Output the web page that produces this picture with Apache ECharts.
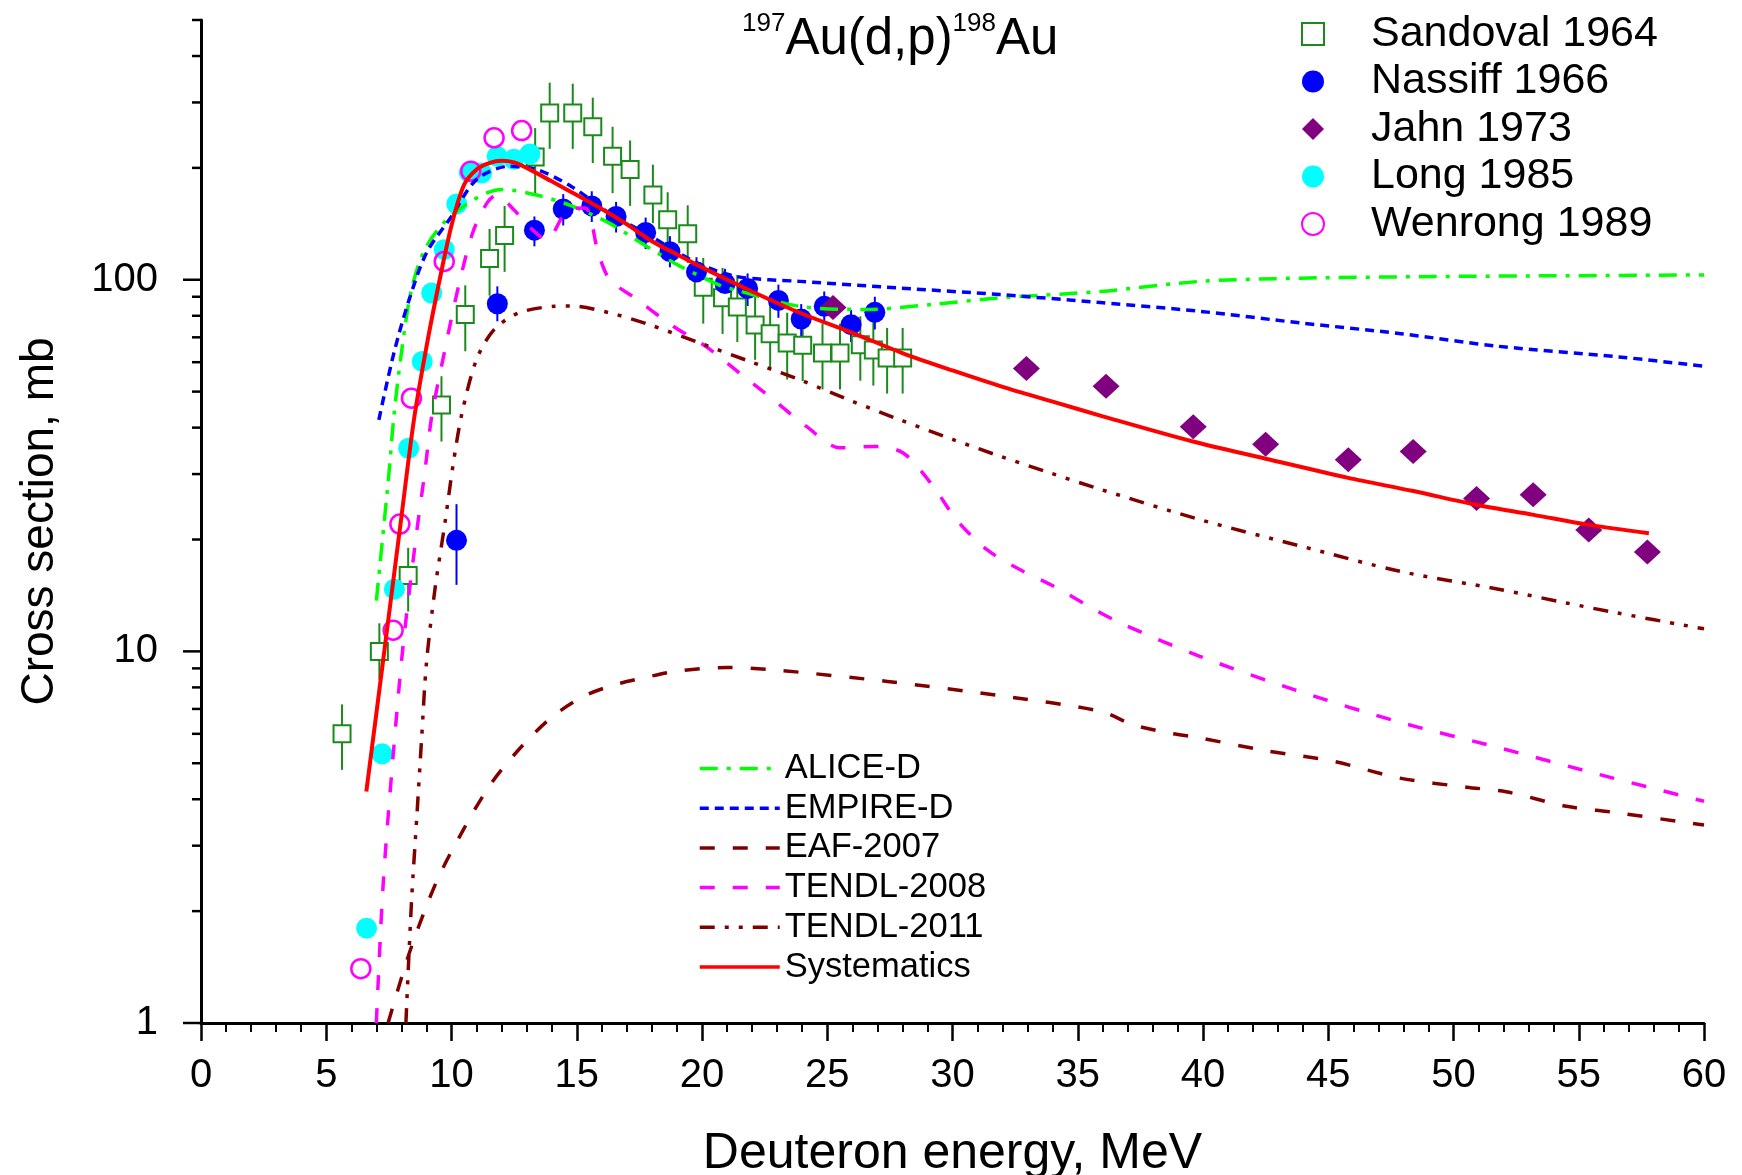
<!DOCTYPE html>
<html><head><meta charset="utf-8">
<script src="https://cdn.jsdelivr.net/npm/echarts@6/dist/echarts.min.js"></script>
<style>html,body{margin:0;padding:0;background:#fff}#c{width:1742px;height:1175px}</style>
</head><body><div id="c"></div>
<script>
// ---------- data ----------
const sandovalE = [5.63, 7.12, 8.27, 9.6, 10.55, 11.52, 12.12, 13.34, 13.92, 14.84, 15.64, 16.43, 17.13, 18.04, 18.63, 19.43, 20.05, 20.82, 21.41, 22.12, 22.72, 23.40, 24.02, 24.81, 25.51, 26.32, 26.84, 27.39, 28.01];
const sandovalV = [6.0, 10.0, 16.0, 46, 80.6, 114, 131.5, 214, 281, 281, 258, 215, 198, 169, 145, 133, 95.4, 89.4, 84.5, 75.6, 71.6, 67.6, 66.6, 63.5, 63.5, 66.8, 64.7, 61.6, 61.6];
const sandovalLo = [4.8, 8.4, 12.8, 36.7, 64.2, 90.6, 105, 171, 225, 225, 206, 171, 158, 142, 121.5, 111, 76.2, 71.5, 68, 60.9, 57.3, 53.9, 53.4, 50.7, 50.7, 53.5, 51.9, 49.4, 49.4];
const sandovalHi = [7.2, 11.9, 19.0, 55, 96.6, 137, 158, 256, 339, 337, 309, 258, 237, 204, 172, 158.6, 114.5, 107.6, 103, 91.2, 86.6, 81.5, 80, 76.2, 76.2, 79.7, 78.2, 74.2, 74.2];

const nassiffE = [10.2, 11.83, 13.31, 14.46, 15.6, 16.57, 17.75, 18.72, 19.78, 20.92, 21.82, 23.05, 23.96, 24.88, 25.95, 26.9];
const nassiffV = [19.9, 86.2, 136, 155, 158, 148, 134, 119, 105, 97.7, 94.7, 88, 78.4, 84.8, 75.7, 81.7];
const nassiffLo = [15.1, 77.3, 123, 140, 143, 134, 121, 108, 95, 88, 85, 79, 70.5, 76, 68, 73.5];
const nassiffHi = [24.9, 96, 148, 170, 173, 162, 147, 131, 115, 107, 104, 97, 86, 93, 83, 90];

const jahnE = [25.23, 32.95, 36.13, 39.61, 42.5, 45.8, 48.39, 50.92, 53.18, 55.4, 57.74];
const jahnV = [84.2, 57.7, 51.7, 40.2, 36.1, 32.8, 34.5, 25.8, 26.4, 21.2, 18.5];

const longE = [6.61, 7.23, 7.72, 8.29, 8.83, 9.21, 9.71, 10.21, 10.71, 11.2, 11.82, 12.49, 13.13];
const longV = [1.8, 5.3, 14.7, 35.2, 60.3, 92.1, 120.5, 160, 194.6, 193.8, 214.8, 211, 218];

const wenrongE = [6.38, 7.67, 7.94, 8.4, 9.71, 10.77, 11.7, 12.8];
const wenrongV = [1.4, 11.4, 22, 48, 112, 196, 241, 252];

const aliceE = [7.0, 7.5, 7.7, 8.0, 8.4, 9.0, 10.1, 12.0, 13.4, 14.8, 16.3, 17.7, 19.1, 20.8, 21.3, 23.9, 26.6, 29.2, 31.9, 35.9, 39.9, 43.9, 49.2, 54, 60];
const aliceV = [13.7, 30, 43, 63.5, 94, 123, 151, 175, 169, 158, 142, 124, 109, 96, 94, 84.8, 83.2, 85.8, 89.4, 93, 99, 101, 102, 102.5, 103];

const empireE = [7.1, 7.7, 8.3, 9.0, 10.0, 11.0, 12.3, 13.4, 14.8, 16.3, 17.7, 19.8, 21.4, 23.9, 27.9, 31.9, 35.9, 39.9, 43.9, 47.9, 51.8, 56.6, 60];
const empireV = [42, 63.5, 88, 118, 148, 186, 202, 198, 178, 151, 134, 111, 102, 99, 95, 91.2, 86.8, 82.2, 76.5, 71.6, 66.2, 62, 58.5];

const eafE = [7.47, 8.34, 9.4, 10.47, 11.53, 12.6, 13.93, 15.26, 16.46, 17.65, 19.0, 21.0, 23.0, 27.4, 31.9, 35.9, 37.2, 38.55, 39.87, 42.54, 45.2, 47.86, 50.52, 52.1, 54.51, 56.37, 60];
const eafV = [1.0, 1.56, 2.4, 3.31, 4.36, 5.36, 6.59, 7.56, 8.11, 8.48, 8.85, 9.05, 8.9, 8.3, 7.6, 6.9, 6.35, 6.05, 5.85, 5.4, 5.06, 4.56, 4.31, 4.19, 3.83, 3.69, 3.41];

const tendl08E = [7.0, 7.27, 7.67, 8.07, 8.6, 8.94, 9.21, 9.71, 10.28, 10.85, 11.42, 11.8, 12.5, 13.1, 13.8, 14.64, 15.33, 15.86, 16.32, 17.25, 18.85, 20.18, 21.51, 22.84, 24.17, 25.5, 26.84, 28.03, 29.23, 30.16, 31.36, 32.69, 34.02, 36.4, 39.87, 43.86, 47.85, 51.84, 55.84, 60];
const tendl08V = [1.0, 2.35, 5.24, 10.4, 20.7, 30.6, 42.9, 63.5, 96, 134, 161, 169, 154, 139, 128, 154, 156, 118, 100, 90, 75, 66, 56, 47.6, 40.3, 35.3, 35.6, 34.2, 27.8, 22.6, 18.8, 16.6, 15.0, 12.2, 9.7, 7.8, 6.45, 5.5, 4.66, 3.95];

const tendl11E = [8.18, 8.4, 8.63, 8.81, 9.0, 9.34, 9.74, 10.07, 10.42, 11.0, 11.7, 12.7, 14.1, 14.8, 16.3, 17.9, 19.9, 21.9, 23.9, 26.0, 27.9, 30.0, 31.9, 33.9, 35.9, 39.9, 43.9, 47.9, 51.8, 54.5, 56.5, 60];
const tendl11V = [1.0, 2.1, 3.72, 5.87, 9.3, 14.7, 22.2, 32, 43.8, 61, 73.4, 81.5, 84.8, 85, 81.5, 75.7, 67.6, 60.3, 53.8, 47.1, 42, 37.2, 33.5, 30.2, 27.3, 22.6, 19.2, 16.4, 14.7, 13.5, 12.7, 11.5];

const sysE = [6.6, 7.0, 7.5, 8.0, 8.5, 9.0, 9.5, 10.0, 10.5, 11.0, 11.5, 12.0, 12.5, 13.0, 14.0, 15.0, 16.0, 17.0, 18.0, 19.0, 20.0, 22.0, 24.0, 26.0, 28.0, 30.0, 32.0, 34.0, 36.0, 39.6, 42.5, 45.8, 48.4, 50.9, 53.2, 55.4, 57.8];
const sysV = [4.2, 6.8, 12.5, 23, 42, 66, 98, 140, 180, 198, 206, 209, 207, 200, 184, 169, 155, 141, 127, 117, 108, 93, 81, 72, 63.5, 57, 51.5, 47, 42.9, 36.7, 33, 29.3, 27, 24.8, 23.3, 21.9, 20.8];

const yLabelValues = [1, 10, 100];
const yMinorValues = [2, 3, 4, 5, 6, 7, 8, 9, 20, 30, 40, 50, 60, 70, 80, 90, 200, 300, 400, 500];

const pointNames = ['Sandoval 1964', 'Nassiff 1966', 'Jahn 1973', 'Long 1985', 'Wenrong 1989'];
const lineNames = ['ALICE-D', 'EMPIRE-D', 'EAF-2007', 'TENDL-2008', 'TENDL-2011', 'Systematics'];

// ---------- chart ----------
const FF = '"Liberation Sans", Arial, Helvetica, sans-serif';
const zip = (a, b) => a.map((x, i) => [x, b[i]]);

function errSeries(E, lo, hi, color) {
  return {
    type: 'custom', silent: true, z: 2,
    data: E.map((e, i) => [e, lo[i], hi[i]]),
    encode: { x: 0, y: [1, 2] },
    renderItem: (p, api) => {
      const a = api.coord([api.value(0), api.value(1)]);
      const b = api.coord([api.value(0), api.value(2)]);
      return { type: 'line', shape: { x1: a[0], y1: a[1], x2: b[0], y2: b[1] },
               style: { stroke: color, lineWidth: 2 } };
    }
  };
}
function lineSeries(name, E, V, color, width, dash) {
  return {
    name, type: 'line', data: zip(E, V), symbol: 'none', showSymbol: false, smooth: 0.3, z: 4,
    itemStyle: { color }, lineStyle: { color, width, type: dash, opacity: 1 }, clip: true
  };
}

const yTickData = yLabelValues.map(v => [0, v, 18]).concat(yMinorValues.map(v => [0, v, 9]));

const option = {
  animation: false,
  backgroundColor: '#fff',
  title: {
    text: '{s|197}{m|Au(d,p)}{s|198}{m|Au}',
    left: 742, top: 11, padding: 0,
    textStyle: {
      rich: {
        s: { fontSize: 26, fontWeight: 'normal', fontFamily: FF, color: '#000', lineHeight: 20, verticalAlign: 'top' },
        m: { fontSize: 51, fontWeight: 'normal', fontFamily: FF, color: '#000', lineHeight: 58 }
      }
    }
  },
  legend: [
    {
      data: pointNames, orient: 'vertical', left: 1301, top: 12, padding: 0,
      itemWidth: 22, itemHeight: 22, itemGap: 3.5, selectedMode: false, symbolKeepAspect: true,
      formatter: n => '{g|}' + n,
      textStyle: { fontSize: 43, lineHeight: 44, fontFamily: FF, color: '#000',
                   rich: { g: { width: 42, fontSize: 43, lineHeight: 44 } } }
    },
    {
      data: lineNames, orient: 'vertical', left: 698, top: 751, padding: 0,
      itemWidth: 80, itemHeight: 16, itemGap: 4.7, selectedMode: false,
      itemStyle: { opacity: 0 },
      lineStyle: { width: 3.5 },
      textStyle: { fontSize: 34.5, lineHeight: 34.5, fontFamily: FF, color: '#000' }
    }
  ],
  grid: { left: 201, right: 38, top: 20, bottom: 152, containLabel: false, outerBoundsMode: 'none' },
  xAxis: {
    type: 'value', min: 0, max: 60, interval: 5, position: 'bottom',
    axisLine: { onZero: false, lineStyle: { color: '#000', width: 3 } },
    axisTick: { length: 18, lineStyle: { color: '#000', width: 2.5 } },
    minorTick: { show: true, splitNumber: 5, length: 9, lineStyle: { color: '#000', width: 2 } },
    splitLine: { show: false },
    axisLabel: { fontSize: 40, margin: 33, color: '#000', fontFamily: FF },
    name: 'Deuteron energy, MeV', nameLocation: 'middle', nameGap: 106,
    nameTextStyle: { fontSize: 50, color: '#000', fontFamily: FF }
  },
  yAxis: {
    type: 'log', logBase: 10, min: 1, max: 500,
    axisLine: { onZero: false, lineStyle: { color: '#000', width: 3 } },
    axisTick: { show: false },
    splitLine: { show: false },
    axisLabel: {
      fontSize: 40, margin: 43, color: '#000', fontFamily: FF,
      formatter: v => {
        const r = Math.round(v);
        return yLabelValues.some(t => Math.abs(t - v) < 1e-6 * t) ? String(r) : '';
      }
    },
    name: 'Cross section, mb', nameLocation: 'middle', nameGap: 138,
    nameTextStyle: { fontSize: 46, color: '#000', fontFamily: FF }
  },
  series: [
    {
      type: 'custom', silent: true, z: 10, data: yTickData,
      renderItem: (p, api) => {
        const c = api.coord([api.value(0), api.value(1)]);
        const len = api.value(2);
        return { type: 'line', shape: { x1: c[0] - len, y1: c[1], x2: c[0], y2: c[1] },
                 style: { stroke: '#000', lineWidth: 2.5 } };
      }
    },
    errSeries(sandovalE, sandovalLo, sandovalHi, '#1a8a1a'),
    errSeries(nassiffE, nassiffLo, nassiffHi, '#0000ff'),
    { name: 'Sandoval 1964', type: 'scatter', data: zip(sandovalE, sandovalV), symbol: 'rect', symbolSize: 17, z: 3,
      symbolKeepAspect: true, itemStyle: { color: '#ffffff', borderColor: '#1a8a1a', borderWidth: 2, opacity: 1 } },
    { name: 'Nassiff 1966', type: 'scatter', data: zip(nassiffE, nassiffV), symbol: 'circle', symbolSize: 21, z: 3,
      itemStyle: { color: '#0000ff', opacity: 1 } },
    { name: 'Jahn 1973', type: 'scatter', data: zip(jahnE, jahnV), symbol: 'diamond', symbolSize: [27, 25], z: 3,
      itemStyle: { color: '#800080', opacity: 1 } },
    { name: 'Long 1985', type: 'scatter', data: zip(longE, longV), symbol: 'circle', symbolSize: 21, z: 3,
      itemStyle: { color: '#00ffff', opacity: 1 } },
    { name: 'Wenrong 1989', type: 'scatter', data: zip(wenrongE, wenrongV), symbol: 'circle', symbolSize: 19, z: 3,
      itemStyle: { color: 'rgba(255,255,255,0)', borderColor: '#ff00ff', borderWidth: 2.5, opacity: 1 } },
    lineSeries('ALICE-D', aliceE, aliceV, '#00ff00', 3.5, [18, 9, 4, 9]),
    lineSeries('EMPIRE-D', empireE, empireV, '#0000ff', 3.5, [9, 6]),
    lineSeries('EAF-2007', eafE, eafV, '#800000', 3.5, [15, 18]),
    lineSeries('TENDL-2008', tendl08E, tendl08V, '#ff00ff', 3.5, [15, 18]),
    lineSeries('TENDL-2011', tendl11E, tendl11V, '#800000', 3.5, [15, 10, 4, 10, 4, 10]),
    lineSeries('Systematics', sysE, sysV, '#ff0000', 4, 'solid')
  ]
};

const chart = echarts.init(document.getElementById('c'), null, { renderer: 'canvas' });
chart.setOption(option);
</script>
</body></html>
